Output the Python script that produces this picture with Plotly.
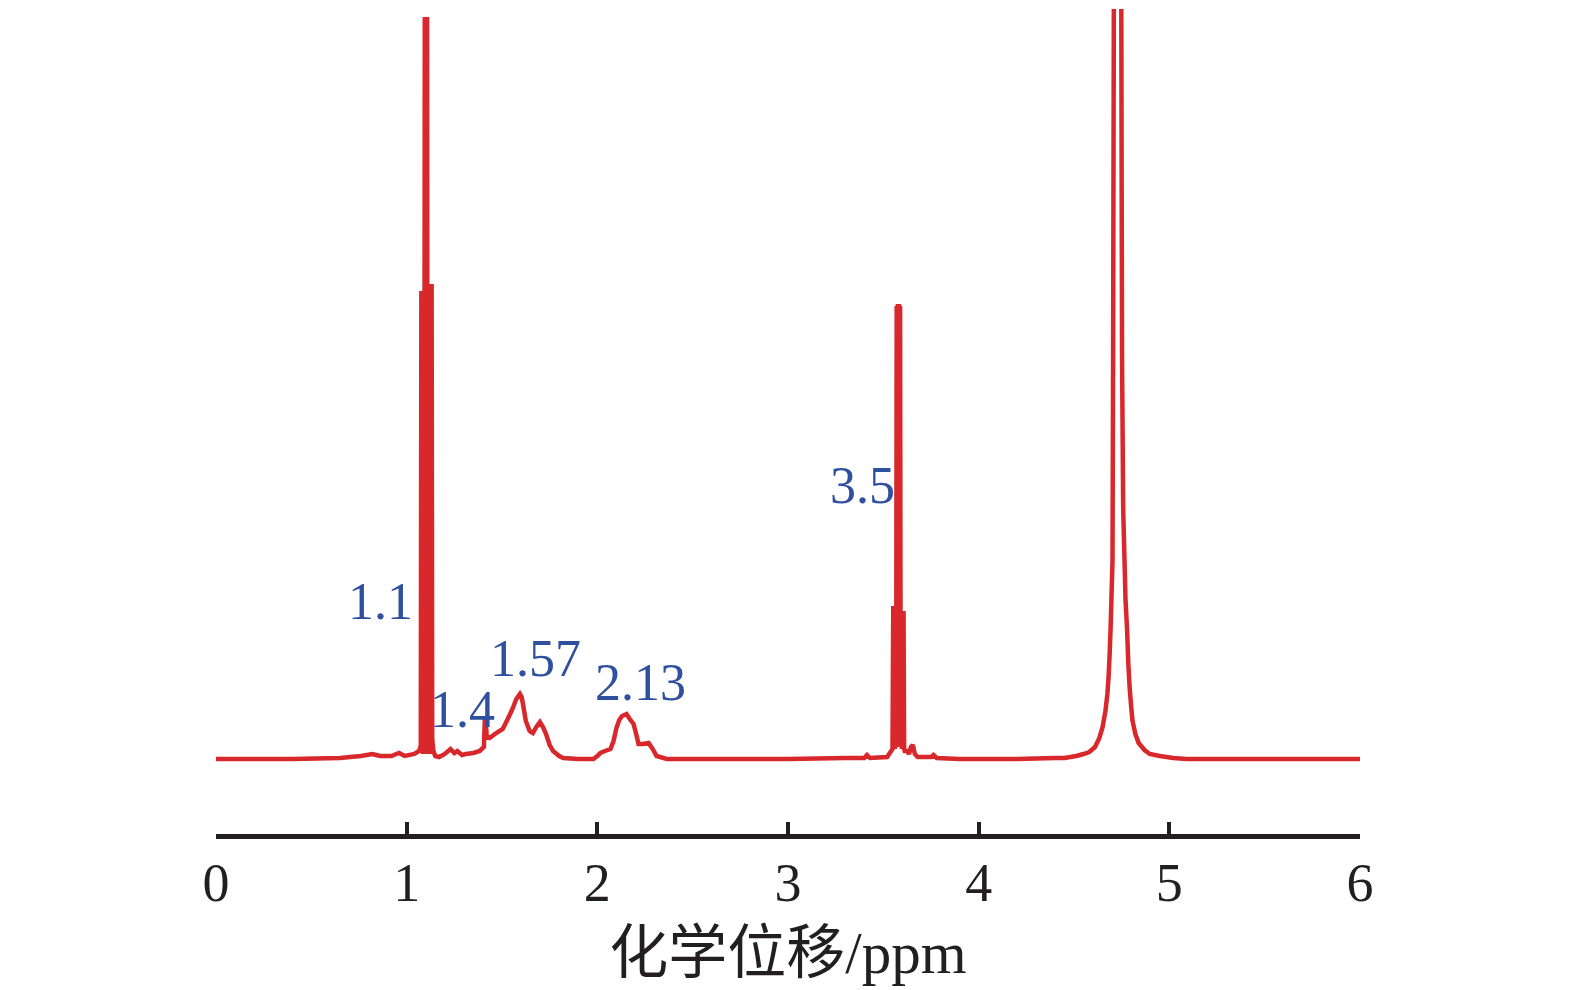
import plotly.graph_objects as go

# chemical shift (ppm) and intensity (baseline = 0)
shift_ppm = [
    0.00, 0.40, 0.65, 0.76, 0.82, 0.86, 0.92, 0.96, 0.99, 1.04, 1.065, 1.072,
    1.074, 1.077, 1.080, 1.083, 1.086, 1.089, 1.092, 1.095, 1.098, 1.101, 1.104, 1.107, 1.110, 1.113,
    1.116, 1.119, 1.122, 1.125, 1.128, 1.131, 1.134,
    1.140, 1.150, 1.17, 1.20, 1.23, 1.25, 1.266, 1.29, 1.31, 1.35, 1.383, 1.405, 1.410, 1.414, 1.420, 1.435,
    1.47, 1.504, 1.53, 1.545, 1.557, 1.575, 1.594, 1.603, 1.61, 1.625, 1.645, 1.662, 1.68, 1.699, 1.715,
    1.731, 1.75, 1.768, 1.80, 1.821, 1.90, 1.979, 2.00, 2.016, 2.04, 2.069, 2.085, 2.100, 2.115, 2.13,
    2.153, 2.17, 2.190, 2.205, 2.216, 2.24, 2.269, 2.29, 2.311, 2.364,
    2.50, 3.00, 3.30, 3.40, 3.414, 3.43, 3.52, 3.548,
    3.552, 3.555, 3.558, 3.561, 3.564, 3.567, 3.570, 3.573, 3.576, 3.579, 3.582, 3.585, 3.588, 3.591,
    3.594, 3.597, 3.600, 3.603, 3.606, 3.609, 3.612,
    3.625, 3.635, 3.645, 3.655, 3.665, 3.68, 3.75, 3.763, 3.78, 3.90, 4.20, 4.40,
    4.45, 4.512, 4.55, 4.580, 4.61, 4.633, 4.650, 4.665, 4.675, 4.681, 4.687, 4.692, 4.697, 4.702, 4.705,
    4.709, 4.728, 4.748, 4.752, 4.758, 4.765, 4.770, 4.778, 4.785, 4.792, 4.800, 4.807, 4.822,
    4.839, 4.87, 4.897, 4.95, 5.02, 5.092, 5.20, 5.60, 6.00,
]
intensity = [
    0, 0, 1, 3, 5, 3, 3, 6, 3, 5, 8, 12,
    14, 468, 6, 468, 5, 468, 5, 742, 6, 742, 6, 742, 6, 475,
    5, 475, 5, 475, 6, 475, 20,
    8, 3, 2, 5, 10, 6, 8, 4, 5, 6, 8, 12, 40, 40, 22, 21,
    26, 30, 40, 46, 51, 60, 65, 62, 55, 38, 28, 26, 32, 37, 32,
    25, 14, 8, 3, 1, 0, 0, 3, 6, 8, 10, 18, 31, 39, 43,
    45, 40, 35, 24, 15, 15, 16, 10, 3, 0,
    0, 0, 1, 1, 4, 1, 2, 10,
    153, 10, 153, 10, 153, 12, 453, 14, 455, 14, 455, 14, 453, 12,
    148, 10, 148, 10, 148, 10, 8,
    8, 5, 12, 14, 5, 2, 2, 4, 1, 0, 0, 1,
    1, 3, 5, 7, 12, 21, 32, 48, 65, 81, 105, 131, 165, 198, 400,
    760, 3000, 760, 400, 250, 198, 160, 131, 95, 71, 52, 38, 25,
    16, 9, 5, 3, 1, 0, 0, 0, 0,
]

peak_labels = ["1.1", "1.4", "1.57", "2.13", "3.5"]
label_x = [0.865, 1.293, 1.678, 2.227, 3.393]
label_y = [158, 50, 101, 77, 274]

x_ticks = [0, 1, 2, 3, 4, 5, 6]

fig = go.Figure()
fig.add_trace(go.Scatter(x=shift_ppm, y=intensity, mode='lines',
                         line=dict(color='#d9282b', width=4.5, simplify=False), showlegend=False))

for txt, lx, ly in zip(peak_labels, label_x, label_y):
    fig.add_annotation(x=lx, y=ly, text=txt, showarrow=False,
                       font=dict(family='Liberation Serif', size=52, color='#2f4f9f'))

fig.update_layout(
    width=1575, height=990,
    margin=dict(l=208, r=223, t=1, b=164),
    plot_bgcolor='white', paper_bgcolor='white',
    xaxis=dict(
        range=[0, 6],
        tickvals=x_ticks,
        automargin=False,
        showline=True, linewidth=5, linecolor='#231f20',
        ticks='inside', ticklen=12, tickwidth=4, tickcolor='#231f20',
        ticklabelstandoff=-3,
        showgrid=False, zeroline=False,
        tickfont=dict(family='Liberation Serif', size=54, color='#231f20'),
        title=dict(text='化学位移/ppm', standoff=21,
                   font=dict(family='Liberation Serif, Noto Sans CJK SC', size=59, color='#231f20')),
    ),
    yaxis=dict(range=[-75, 750], visible=False, automargin=False),
)

fig.write_html("out.html")
